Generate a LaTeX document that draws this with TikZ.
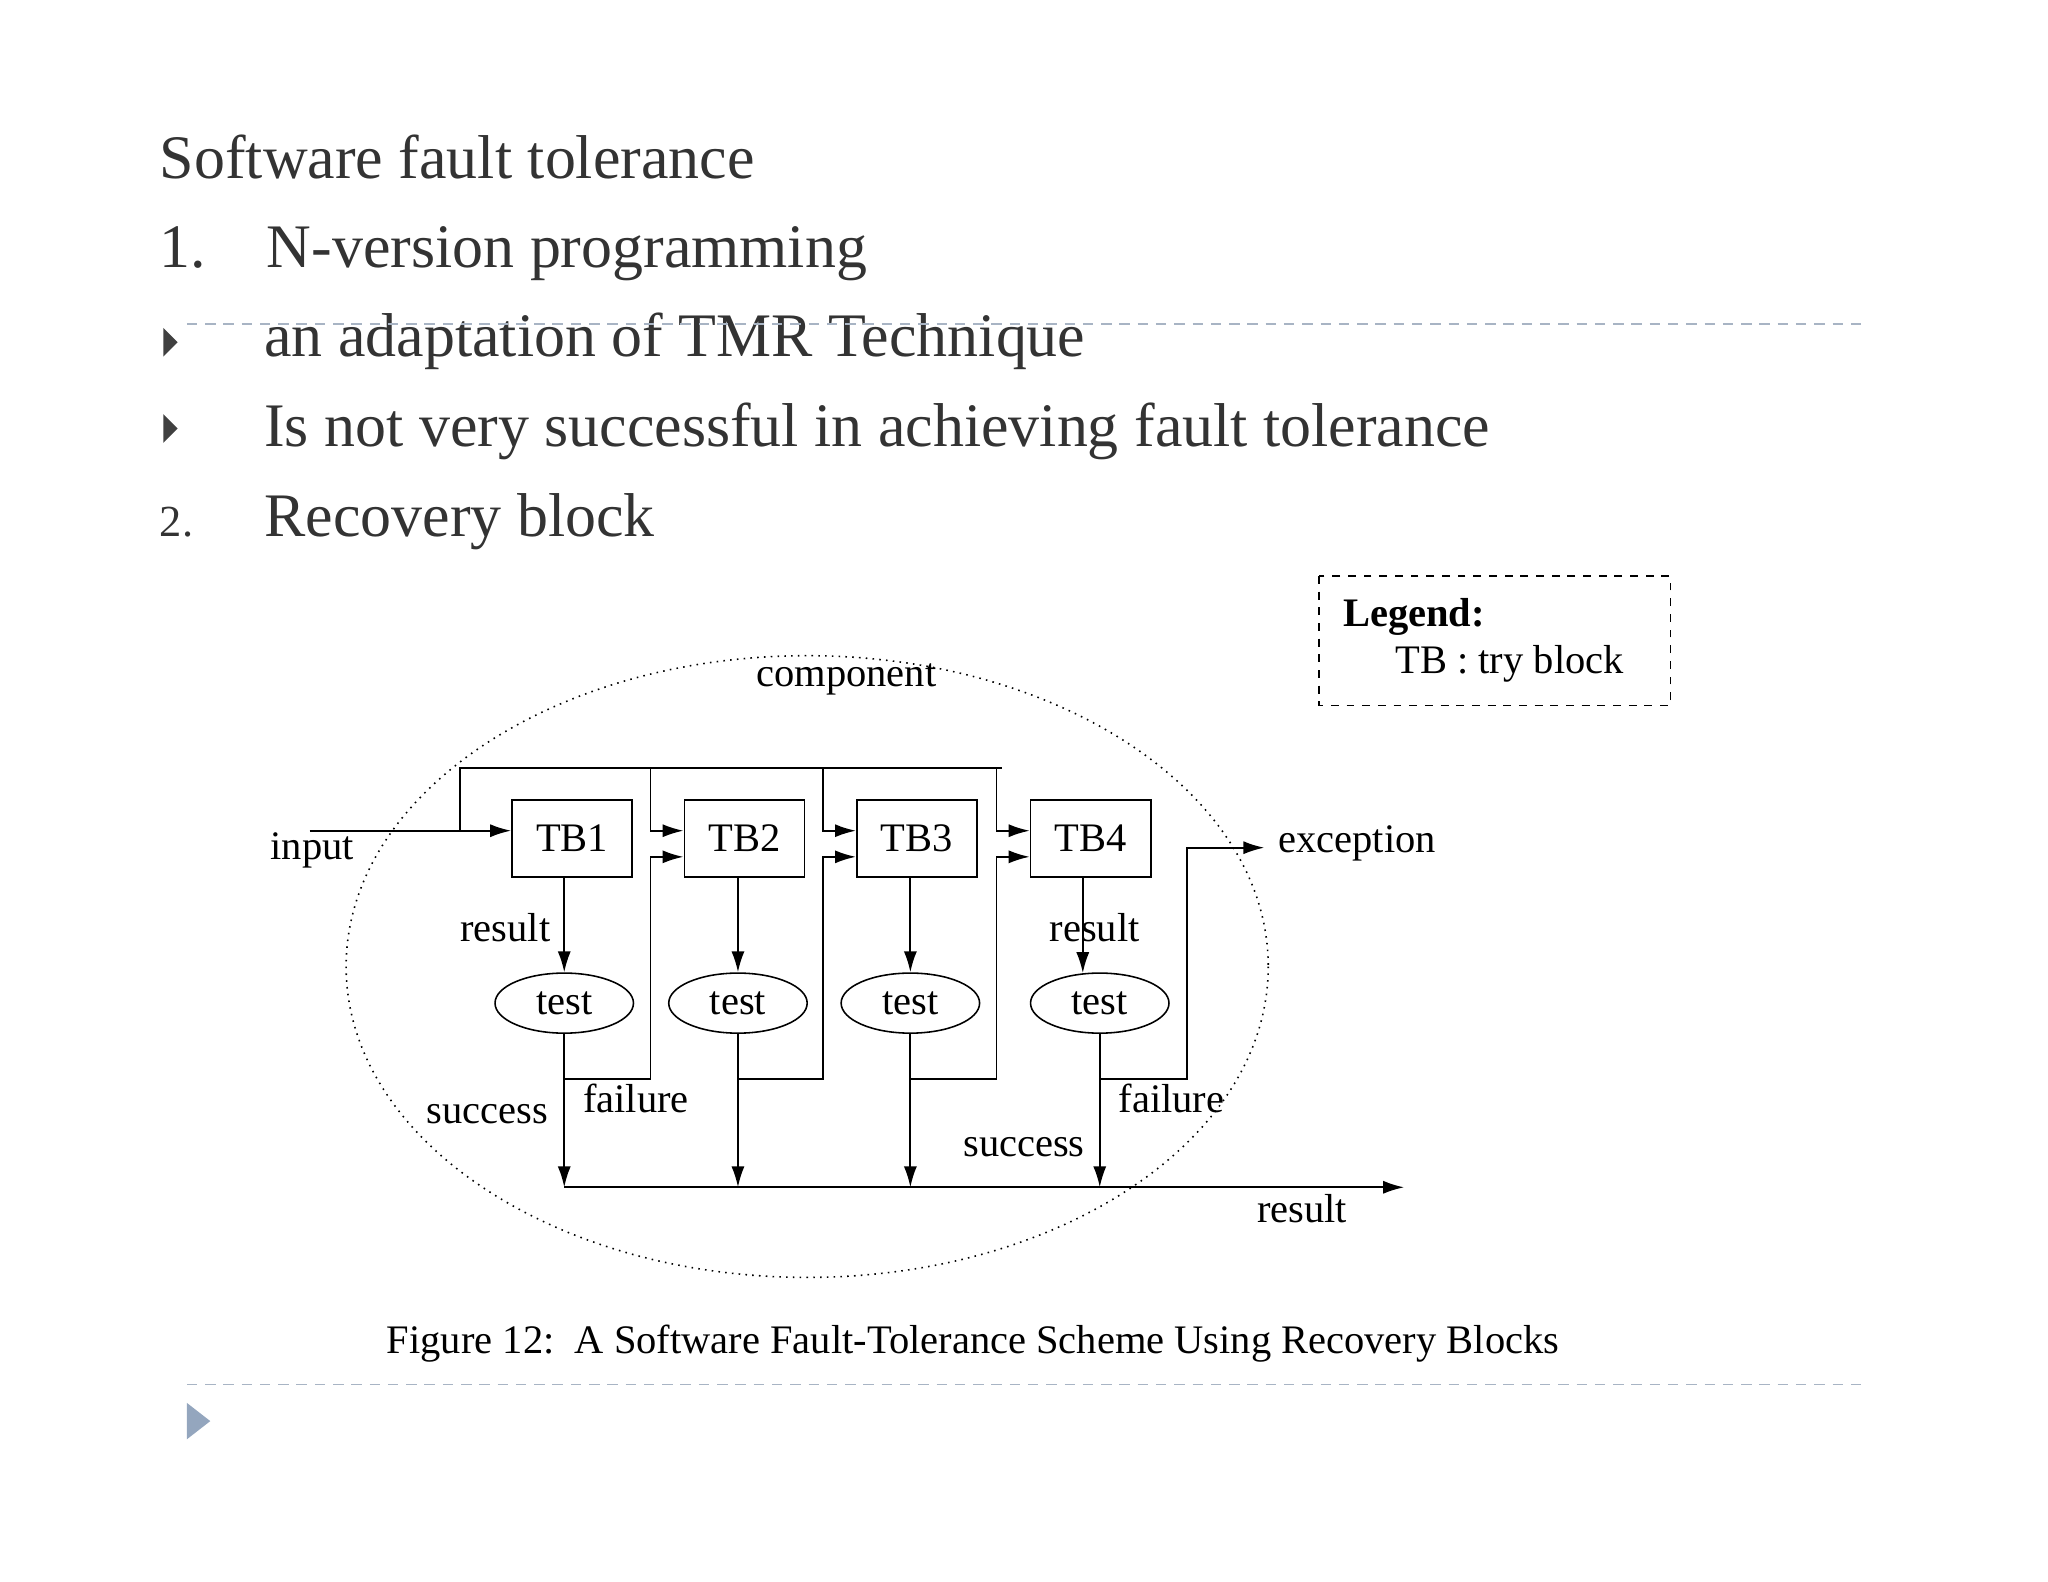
\documentclass[tikz,border=0pt]{standalone}
\usepackage{fontspec}
\setmainfont{Liberation Serif}
\usetikzlibrary{arrows.meta,shapes.geometric}
\definecolor{dlc}{HTML}{A8B4C4}
\definecolor{tri}{HTML}{94A6BE}
\begin{document}
\begin{tikzpicture}[x=0.5pt,y=-0.5pt,
  title/.style={anchor=base west,inner sep=0pt,font=\fontsize{23.7}{26}\selectfont,text=black!80},
  lbl/.style={font=\fontsize{15.5}{17}\selectfont},
  tb/.style={draw,line width=0.7pt,minimum width=46pt,minimum height=29.5pt,font=\fontsize{15.5}{17}\selectfont},
  tst/.style={draw,ellipse,line width=0.6pt,minimum width=53pt,minimum height=23pt,inner sep=0pt,font=\fontsize{15.5}{17}\selectfont},
  w/.style={line width=0.7pt},
  arr/.style={w,-{Latex[length=8pt,width=5pt]}},
  dl/.style={draw=dlc,dash pattern=on 4pt off 3pt,line width=0.7pt},
  bul/.style={fill=black!75,draw=none}]
\useasboundingbox (0,0) rectangle (1568,1211);
% slide text
\node[title] (t1) at (122,137) {Software fault tolerance};
\node[title] (t2a) at (122,205) {1.};
\node[title] (t2) at (204,205) {N-version programming};
\node[title] (t3) at (202,273) {an adaptation of TMR Technique};
\node[title] (t4) at (202,342) {Is not very successful in achieving fault tolerance};
\node[title,font=\fontsize{17}{19}\selectfont] (t5a) at (122,411) {2.};
\node[title] (t5) at (202,411) {Recovery block};
\draw[dl] (143,248) -- (1425,248);
\draw[dl] (143,1060) -- (1425,1060);
\fill[bul] (125,251) -- (136,262) -- (125,273) -- cycle;
\fill[bul] (125,317) -- (136,328) -- (125,339) -- cycle;
\fill[tri] (143,1074) -- (161,1088) -- (143,1102) -- cycle;
% legend
\draw[dashed,line width=0.6pt] (1010,441) rectangle (1279,540);
\node[lbl,font=\bfseries\fontsize{15.5}{17}\selectfont,anchor=west,inner sep=0pt] (leg) at (1028,472) {Legend:};
\node[lbl,anchor=west,inner sep=0pt] (legtb) at (1068,508) {TB : try block};
% component ellipse
\draw[dotted,line width=0.6pt] (618,740) ellipse [x radius=353, y radius=238];
\node[lbl] (comp) at (648,520) {component};
% boxes
\node[tb] (TB1) at (438,642) {TB1};
\node[tb] (TB2) at (570,642) {TB2};
\node[tb] (TB3) at (702,642) {TB3};
\node[tb] (TB4) at (835,642) {TB4};
\node[tst] (T1) at (432,768) {test};
\node[tst] (T2) at (565,768) {test};
\node[tst] (T3) at (697,768) {test};
\node[tst] (T4) at (842,768) {test};
% coordinates
\coordinate (in) at (237,636);
\coordinate (tl) at (352,588);
\coordinate (tr) at (767,588);
\coordinate (res0) at (432,909);
\coordinate (resE) at (1075,909);
\coordinate (exc) at (968,649);
% input & top bus
\draw[arr] (in) -- (TB1.west |- in);
\draw[w] (352,636) -- (tl) -- (tr);
\draw[arr] (498,588) -- (498,636) -- (TB2.west |- 0,636);
\draw[arr] (630,588) -- (630,636) -- (TB3.west |- 0,636);
\draw[arr] (763,588) -- (763,636) -- (TB4.west |- 0,636);
% box to test
\draw[arr] (TB1.south -| T1) -- (T1.north);
\draw[arr] (TB2.south -| T2) -- (T2.north);
\draw[arr] (TB3.south -| T3) -- (T3.north);
\draw[arr] (829,672) -- (829,745);
% failure
\draw[arr] (T1.south) -- (432,826) -- (498,826) -- (498,656) -- (TB2.west |- 0,656);
\draw[arr] (T2.south) -- (565,826) -- (630,826) -- (630,656) -- (TB3.west |- 0,656);
\draw[arr] (T3.south) -- (697,826) -- (763,826) -- (763,656) -- (TB4.west |- 0,656);
\draw[arr] (T4.south) -- (842,826) -- (909,826) -- (909,649) -- (exc);
% success
\draw[arr] (T1.south) -- (res0);
\draw[arr] (T2.south) -- (565,909);
\draw[arr] (T3.south) -- (697,909);
\draw[arr] (T4.south) -- (842,909);
\draw[arr] (res0) -- (resE);
% labels
\node[lbl] (l1) at (239,651) {input};
\node[lbl] (l2) at (387,710) {result};
\node[lbl] (l3) at (838,710) {result};
\node[lbl] (l4) at (373,853) {success};
\node[lbl] (l5) at (487,841) {failure};
\node[lbl] (l6) at (784,878) {success};
\node[lbl] (l7) at (897,841) {failure};
\node[lbl] (l8) at (997,925) {result};
\node[lbl] (l9) at (1039,646) {exception};
\node[font=\fontsize{15.5}{17}\selectfont] (cap) at (745,1029) {Figure 12:\ \ A Software Fault-Tolerance Scheme Using Recovery Blocks};
\end{tikzpicture}
\end{document}
